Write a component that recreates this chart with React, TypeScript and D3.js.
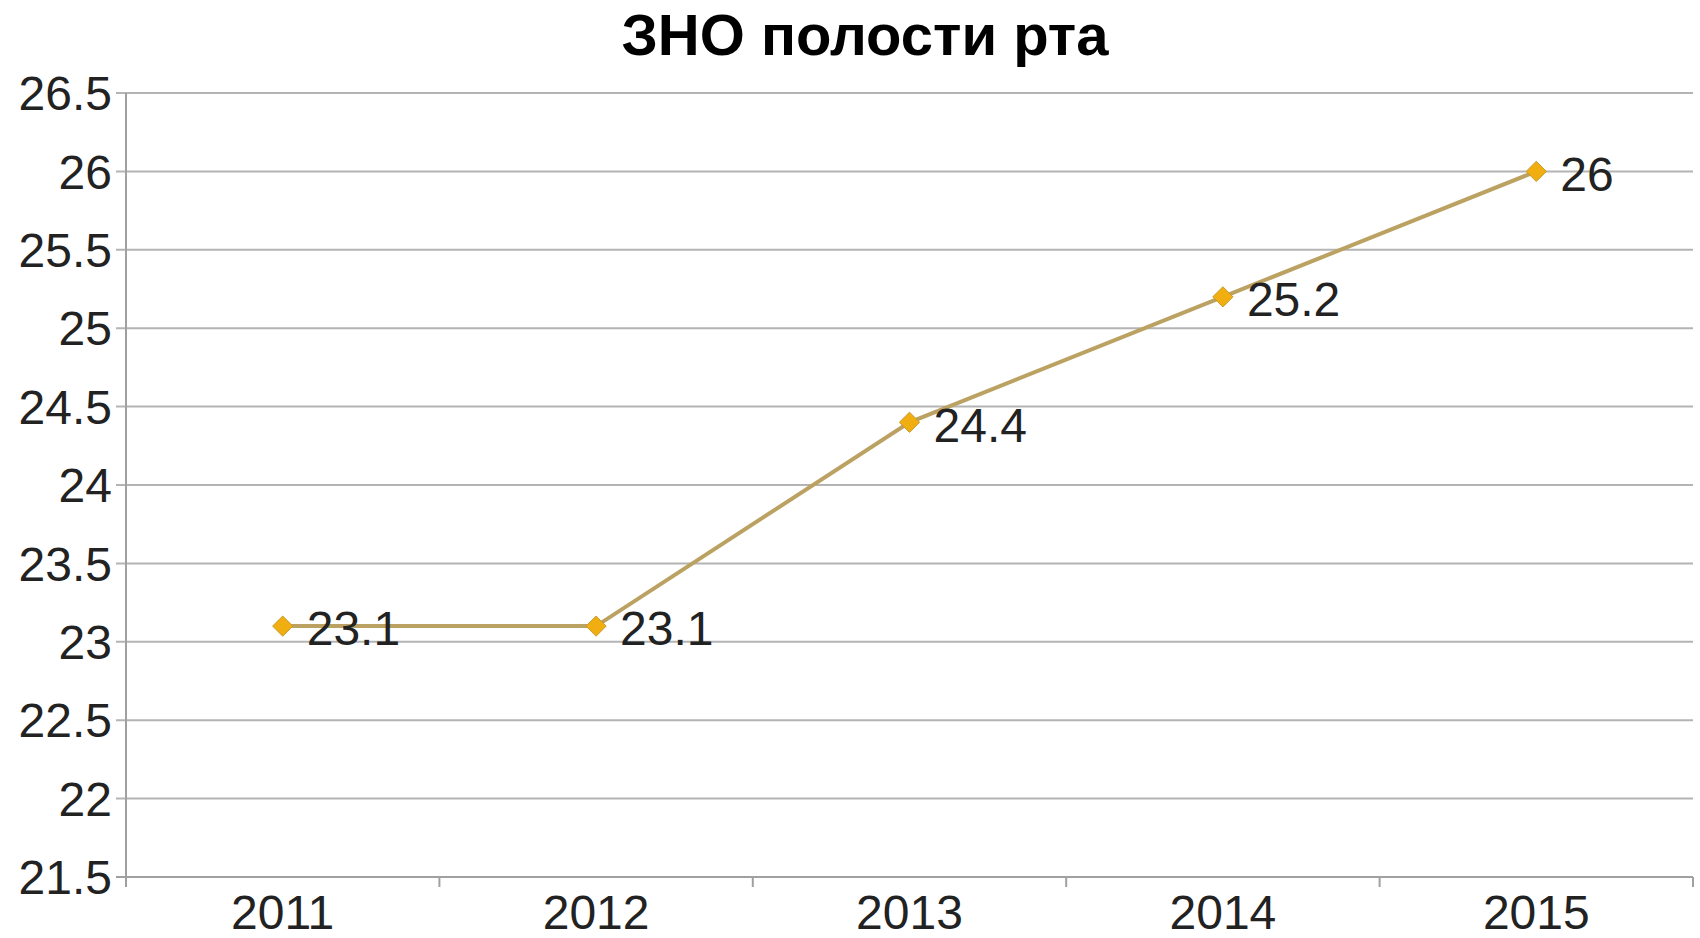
import React, { useEffect, useRef } from 'react';
import * as d3 from 'd3';

const years = ['2011', '2012', '2013', '2014', '2015'];
const values = [23.1, 23.1, 24.4, 25.2, 26];
const yTicks = [21.5, 22, 22.5, 23, 23.5, 24, 24.5, 25, 25.5, 26, 26.5];
const title = 'ЗНО полости рта';

const W = 1700;
const H = 938;
const font = '"Liberation Sans", Arial, sans-serif';

export default function App() {
  const ref = useRef<SVGSVGElement>(null);

  useEffect(() => {
    const svg = d3.select(ref.current);
    svg.selectAll('*').remove();

    const left = 126;
    const right = 1693;
    const top = 93;
    const bottom = 877;

    const x = d3.scaleBand().domain(years).range([left, right]);
    const y = d3.scaleLinear().domain([21.5, 26.5]).range([bottom, top]);

    // horizontal grid, extended left to make the tick marks
    svg.append('g')
      .selectAll('line')
      .data(yTicks)
      .enter()
      .append('line')
      .attr('x1', left - 10)
      .attr('x2', right)
      .attr('y1', d => y(d))
      .attr('y2', d => y(d))
      .attr('stroke', d => (d === 21.5 ? '#a0a0a0' : '#b4b4b4'))
      .attr('stroke-width', 2);

    // y tick labels
    svg.append('g')
      .selectAll('text')
      .data(yTicks)
      .enter()
      .append('text')
      .attr('x', 112)
      .attr('y', d => y(d))
      .attr('dy', '0.36em')
      .attr('text-anchor', 'end')
      .attr('font-family', font)
      .attr('font-size', 48)
      .attr('fill', '#222')
      .text(d => String(d));

    // y axis line
    svg.append('line')
      .attr('x1', left).attr('x2', left)
      .attr('y1', top).attr('y2', bottom + 10)
      .attr('stroke', '#a0a0a0')
      .attr('stroke-width', 2);

    // category boundary ticks
    const bounds = years.map(d => x(d) as number).concat([right]);
    svg.append('g')
      .selectAll('line')
      .data(bounds.slice(1))
      .enter()
      .append('line')
      .attr('x1', d => d).attr('x2', d => d)
      .attr('y1', bottom).attr('y2', bottom + 10)
      .attr('stroke', '#a0a0a0')
      .attr('stroke-width', 2);

    // x labels
    svg.append('g')
      .selectAll('text')
      .data(years)
      .enter()
      .append('text')
      .attr('x', d => (x(d) as number) + x.bandwidth() / 2)
      .attr('y', 929)
      .attr('text-anchor', 'middle')
      .attr('font-family', font)
      .attr('font-size', 48)
      .attr('fill', '#222')
      .text(d => d);

    const cx = (i: number) => (x(years[i]) as number) + x.bandwidth() / 2;

    const line = d3.line<number>()
      .x((d, i) => cx(i))
      .y(d => y(d));

    svg.append('path')
      .datum(values)
      .attr('d', line)
      .attr('fill', 'none')
      .attr('stroke', '#bba262')
      .attr('stroke-width', 4);

    svg.append('g')
      .selectAll('path')
      .data(values)
      .enter()
      .append('path')
      .attr('d', d3.symbol(d3.symbolDiamond2, 260)() as string)
      .attr('transform', (d, i) => `translate(${cx(i)},${y(d)})`)
      .attr('fill', '#f0ae10')
      .attr('stroke', '#c89a2a')
      .attr('stroke-width', 1);

    // data labels
    svg.append('g')
      .selectAll('text')
      .data(values)
      .enter()
      .append('text')
      .attr('x', (d, i) => cx(i) + 24)
      .attr('y', d => y(d) + 2)
      .attr('dy', '0.36em')
      .attr('font-family', font)
      .attr('font-size', 48)
      .attr('fill', '#222')
      .text(d => String(d));

    svg.append('text')
      .attr('x', 865)
      .attr('y', 55)
      .attr('text-anchor', 'middle')
      .attr('font-family', font)
      .attr('font-weight', 'bold')
      .attr('font-size', 58)
      .attr('fill', '#000')
      .text(title);
  }, []);

  return (
    <svg
      ref={ref}
      width={W}
      height={H}
      style={{ position: 'absolute', left: 0, top: 0, background: '#fff' }}
    />
  );
}
